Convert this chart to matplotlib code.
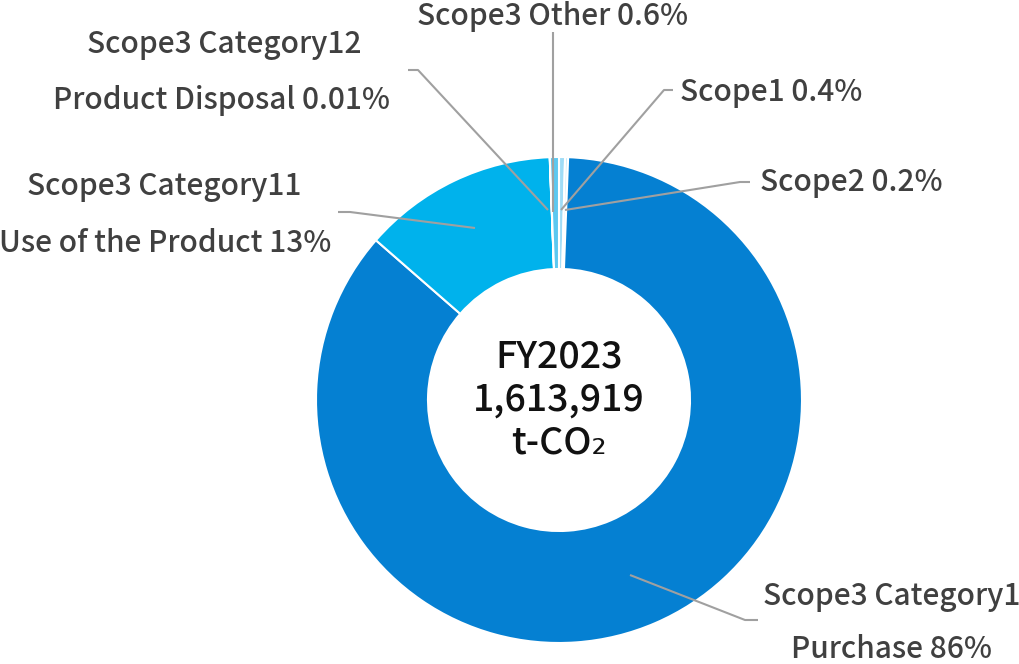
import numpy as np
from matplotlib import pyplot as plt

plt.rcParams['font.family'] = ['Noto Sans CJK JP', 'DejaVu Sans']

# data
labels = ['Scope1', 'Scope2', 'Scope3 Category1', 'Scope3 Category11',
          'Scope3 Category12', 'Scope3 Other']
shares = [0.4, 0.2, 86, 13, 0.01, 0.6]
colors = ['#9fdcf6', '#c9ecfb', '#0580d2', '#00b2ec', '#8fd6f4', '#5cc8f0']
total_text = ['FY2023', '1,613,919', 't-CO\u2082']

W, H = 1020, 664
fig = plt.figure(figsize=(W / 100, H / 100), dpi=100)
ax = fig.add_axes([0, 0, 1, 1])
ax.set_xlim(0, W)
ax.set_ylim(0, H)
ax.set_aspect('equal')
ax.axis('off')

def py(y):
    # pixel row -> data y
    return H - y

cx, cy, R, r_in = 559, py(400), 243, 131
ax.pie(shares, colors=colors, startangle=90, counterclock=False,
       center=(cx, cy), radius=R,
       wedgeprops=dict(width=R - r_in, edgecolor='white', linewidth=1.5))
ax.set_xlim(0, W)
ax.set_ylim(0, H)

# centre text
for txt, yy in zip(total_text, [356, 400, 443]):
    ax.text(cx, py(yy), txt, ha='center', va='center', fontsize=27,
            fontweight='medium', color='#111111')

# leader lines (pixel coords) and labels
grey = '#a0a0a0'
leaders = [
    [(553, 32), (553, 212)],                  # Other
    [(408, 70), (418, 70), (548, 210)],       # Cat12
    [(673, 90), (664, 90), (561, 210)],       # Scope1
    [(750, 182), (740, 182), (565, 210)],     # Scope2
    [(338, 212), (350, 212), (475, 228)],     # Cat11
    [(758, 620), (745, 620), (630, 575)],     # Cat1
]
for pts in leaders:
    xs = [p[0] for p in pts]
    ys = [py(p[1]) for p in pts]
    ax.plot(xs, ys, color=grey, lw=1.5, solid_capstyle='butt')

tc = '#404040'
kw = dict(va='center', fontsize=21.5, fontweight='medium', color=tc)
ax.text(553, py(16), 'Scope3 Other 0.6%', ha='center', **kw)
ax.text(224, py(45), 'Scope3 Category12', ha='center', **kw)
ax.text(222, py(101), 'Product Disposal 0.01%', ha='center', **kw)
ax.text(680, py(92), 'Scope1 0.4%', ha='left', **kw)
ax.text(760, py(183), 'Scope2 0.2%', ha='left', **kw)
ax.text(164, py(186), 'Scope3 Category11', ha='center', **kw)
ax.text(165, py(244), 'Use of the Product 13%', ha='center', **kw)
ax.text(892, py(597), 'Scope3 Category1', ha='center', **kw)
ax.text(892, py(649), 'Purchase 86%', ha='center', **kw)

fig.savefig('out.png', dpi=100)
